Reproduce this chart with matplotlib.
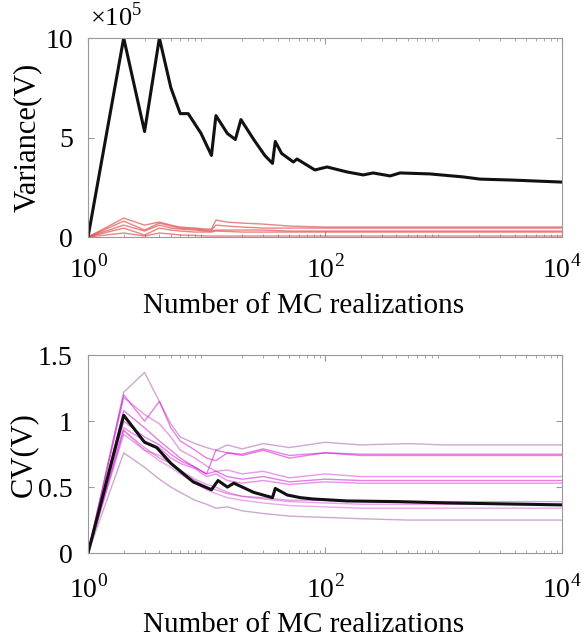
import numpy as np
import matplotlib
matplotlib.use("Agg")
import matplotlib.pyplot as plt
from matplotlib.ticker import LogLocator, NullFormatter

plt.rcParams["font.family"] = ["Liberation Serif", "DejaVu Serif"]
plt.rcParams["mathtext.fontset"] = "custom"
plt.rcParams["mathtext.rm"] = "Liberation Serif"

# variance of V (units of 1e5), black = overall
var_n = [1, 2, 3, 4, 5, 6, 7, 9, 11, 12, 15, 17.5, 19.5, 25, 31, 36, 38, 43, 54, 58,
         82, 104, 153, 210, 254, 354, 430, 769, 1462, 2033, 3857, 10000]
var_black = [0, 10, 5.3, 10, 7.5, 6.2, 6.2, 5.2, 4.1, 6.1, 5.2, 4.9, 5.9, 4.9, 4.1, 3.7, 4.8,
             4.2, 3.77, 3.92, 3.37, 3.52, 3.27, 3.12, 3.22, 3.07, 3.22, 3.17, 3.02, 2.91, 2.86, 2.76]

red_n = [1, 2, 3, 4, 5, 6, 8, 10, 11, 12, 15, 20, 30, 50, 100, 1000, 10000]
var_red = [
    [0, 0.95, 0.6, 0.75, 0.6, 0.5, 0.45, 0.4, 0.4, 0.85, 0.75, 0.7, 0.65, 0.55, 0.5, 0.5, 0.5],
    [0, 0.8, 0.35, 0.7, 0.55, 0.45, 0.4, 0.35, 0.35, 0.6, 0.55, 0.5, 0.45, 0.45, 0.45, 0.45, 0.45],
    [0, 0.6, 0.3, 0.6, 0.45, 0.4, 0.35, 0.3, 0.3, 0.35, 0.35, 0.35, 0.35, 0.3, 0.3, 0.3, 0.3],
    [0, 0.45, 0.1, 0.45, 0.35, 0.3, 0.25, 0.25, 0.25, 0.3, 0.28, 0.25, 0.25, 0.25, 0.25, 0.25, 0.25],
    [0, 0.2, 0.05, 0.2, 0.15, 0.1, 0.08, 0.05, 0.05, 0.05, 0.05, 0.05, 0.05, 0.05, 0.05, 0.05, 0.05],
]

# coefficient of variation
cv_black_n = [1, 2, 3, 3.8, 5, 7.7, 11, 12.5, 15, 17, 25, 36, 38, 48, 62, 79, 153, 405, 1070, 10000]
cv_black = [0, 1.045, 0.84, 0.80, 0.68, 0.54, 0.48, 0.55, 0.50, 0.53, 0.46, 0.42, 0.49, 0.44,
            0.42, 0.41, 0.395, 0.39, 0.38, 0.365]

cv_n = [1, 2, 3, 4, 5, 6, 8, 10, 12, 15, 20, 30, 50, 100, 200, 500, 1000, 10000]
cv_lines = [
    [0, 1.22, 1.37, 1.15, 0.98, 0.88, 0.83, 0.80, 0.78, 0.82, 0.79, 0.83, 0.80, 0.84, 0.82, 0.83, 0.82, 0.82],
    [0, 1.20, 1.00, 1.15, 0.95, 0.85, 0.78, 0.72, 0.70, 0.76, 0.74, 0.78, 0.72, 0.76, 0.74, 0.74, 0.74, 0.74],
    [0, 1.18, 1.05, 0.98, 0.88, 0.78, 0.72, 0.66, 0.62, 0.63, 0.60, 0.62, 0.57, 0.60, 0.58, 0.58, 0.58, 0.58],
    [0, 1.08, 0.95, 0.85, 0.78, 0.72, 0.65, 0.60, 0.62, 0.58, 0.56, 0.58, 0.54, 0.56, 0.55, 0.55, 0.55, 0.55],
    [0, 0.95, 0.85, 0.80, 0.72, 0.68, 0.64, 0.58, 0.60, 0.55, 0.53, 0.55, 0.52, 0.54, 0.53, 0.53, 0.53, 0.53],
    [0, 0.93, 0.80, 0.72, 0.68, 0.62, 0.55, 0.50, 0.48, 0.45, 0.43, 0.42, 0.40, 0.40, 0.39, 0.39, 0.39, 0.39],
    [0, 0.93, 0.78, 0.70, 0.65, 0.60, 0.53, 0.48, 0.45, 0.42, 0.40, 0.38, 0.36, 0.35, 0.34, 0.34, 0.34, 0.34],
    [0, 0.76, 0.65, 0.56, 0.50, 0.46, 0.40, 0.37, 0.34, 0.35, 0.32, 0.30, 0.28, 0.27, 0.26, 0.25, 0.25, 0.25],
    [0, 1.00, 0.88, 0.82, 0.75, 0.70, 0.65, 0.60, 0.78, 0.76, 0.75, 0.79, 0.74, 0.76, 0.75, 0.75, 0.75, 0.75],
    [0, 0.90, 0.78, 0.74, 0.68, 0.63, 0.56, 0.52, 0.50, 0.46, 0.43, 0.41, 0.39, 0.38, 0.37, 0.37, 0.37, 0.37],
]
cv_colors = ["#a050a0", "#d000d0", "#d830d8", "#c800c8", "#d820d8",
             "#c040c0", "#d850d8", "#a050a0", "#d000d0", "#d840d8"]

xticks = [1, 100, 10000]
xticklabels = [r"$10^0$", r"$10^2$", r"$10^4$"]
FS = 20
LFS = 21


def style_axis(ax, xpad, xlabel_y):
    ax.set_xscale("log")
    ax.set_xlim(1, 10000)
    ax.set_xticks(xticks)
    ax.set_xticklabels(xticklabels)
    ax.xaxis.set_minor_locator(LogLocator(base=10, subs=np.arange(2, 10), numticks=20))
    ax.xaxis.set_minor_formatter(NullFormatter())
    ax.tick_params(which="both", direction="in", top=True, right=True, color="#999999")
    ax.tick_params(which="major", length=4, labelsize=FS)
    ax.tick_params(which="minor", length=2)
    ax.tick_params(axis="x", pad=xpad)
    ax.tick_params(axis="y", pad=11)
    for s in ax.spines.values():
        s.set_color("#999999")
    ax.set_xlabel("Number of MC realizations", fontsize=LFS)
    ax.xaxis.set_label_coords(0.455, xlabel_y)


fig = plt.figure(figsize=(5.81, 6.42), dpi=100)

ax1 = fig.add_axes([0.1515, 0.6308, 0.816, 0.31])
for v in var_red:
    ax1.plot(red_n, v, color="#e05050", alpha=0.7, lw=1.0)
ax1.plot(var_n, var_black, color="#111111", lw=2.2)
style_axis(ax1, 13, -0.28)
ax1.set_ylim(0, 10)
ax1.set_yticks([0, 5, 10])
ax1.set_ylabel("Variance(V)", fontsize=22)
ax1.yaxis.set_label_coords(-0.097, 0.5)
ax1.text(0.004, 1.06, "×10$^5$", transform=ax1.transAxes, fontsize=19,
         ha="left", va="baseline")

ax2 = fig.add_axes([0.1515, 0.1386, 0.816, 0.308])
for v, c in zip(cv_lines, cv_colors):
    ax2.plot(cv_n, v, color=c, alpha=0.5, lw=1.0)
ax2.plot(cv_black_n, cv_black, color="#111111", lw=2.2)
style_axis(ax2, 16, -0.30)
ax2.set_ylim(0, 1.5)
ax2.set_yticks([0, 0.5, 1, 1.5])
ax2.set_yticklabels(["0", "0.5", "1", "1.5"])
ax2.set_ylabel("CV(V)", fontsize=22)
ax2.yaxis.set_label_coords(-0.105, 0.5)

fig.savefig("out.png", dpi=100)
